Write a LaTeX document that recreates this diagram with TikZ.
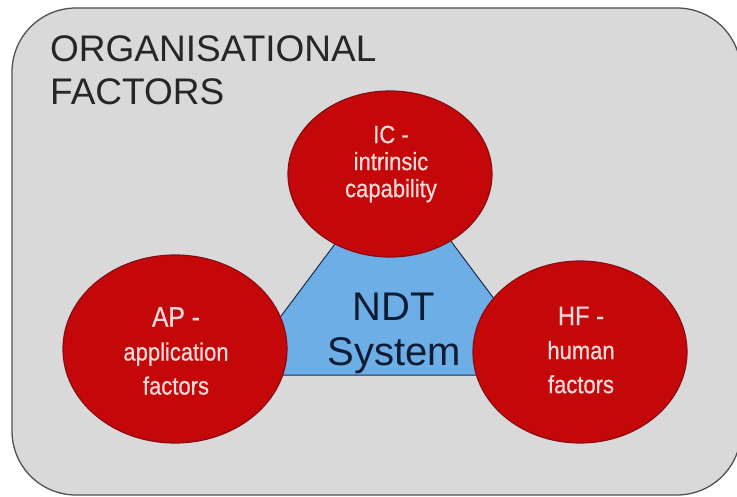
\documentclass[tikz,border=0pt]{standalone}
\usepackage{fontspec}
\setmainfont{Liberation Sans}
\newfontfamily\narrowsans{Liberation Sans}[FakeStretch=0.88,FakeBold=0.6]
\usepackage{xcolor}
\definecolor{orggray}{RGB}{217,217,217}
\definecolor{orgedge}{RGB}{80,80,86}
\definecolor{fredfill}{RGB}{196,8,10}
\definecolor{frededge}{RGB}{140,10,20}
\definecolor{fredtext}{RGB}{250,218,218}
\definecolor{ndtblue}{RGB}{110,174,230}
\definecolor{ndtedge}{RGB}{25,45,80}
\definecolor{ndttext}{RGB}{12,28,52}
\usetikzlibrary{positioning,shapes.geometric}

\begin{document}
\begin{tikzpicture}[x=1pt,y=-1pt,
  factor/.style={draw=frededge,line width=1.2pt,fill=fredfill,ellipse,inner sep=0pt},
  factext/.style={align=center,text=fredtext,font=\narrowsans\fontsize{25}{27}\selectfont}]
  \useasboundingbox (0,0) rectangle (737,497);
  % Organisation box
  \draw[orgedge,fill=orggray,line width=1.3pt,rounded corners=64] (12,8) rectangle (741,495);
  \node[anchor=north west,align=left,font=\fontsize{37}{43}\selectfont,text=black!85,inner sep=0pt] (org) at (50,35) {ORGANISATIONAL\\FACTORS};
  % NDT triangle
  \draw[ndtedge,fill=ndtblue,line width=1pt] (237,375) -- (551,375) -- (394,165) -- cycle;
  \node[align=center,text=ndttext,font=\fontsize{40}{45}\selectfont] (ndt) at (394,333) {NDT\\System};
  % Three factors
  \node[factor,minimum width=204,minimum height=166] (ic) at (390,174) {};
  \node[factor,minimum width=224,minimum height=188] (ap) at (175,349) {};
  \node[factor,minimum width=214,minimum height=182] (hf) at (580,352) {};
  \node[factext] (ictext) at (391,164) {IC -\\intrinsic\\capability};
  \node[factext,font=\narrowsans\fontsize{25}{34}\selectfont] (aptext) at (176,351) {\fontsize{28}{34}\selectfont AP -\\application\\factors};
  \node[factext,font=\narrowsans\fontsize{25}{34}\selectfont] (hftext) at (581,350) {\fontsize{27}{34}\selectfont HF -\\human\\factors};
\end{tikzpicture}
\end{document}
